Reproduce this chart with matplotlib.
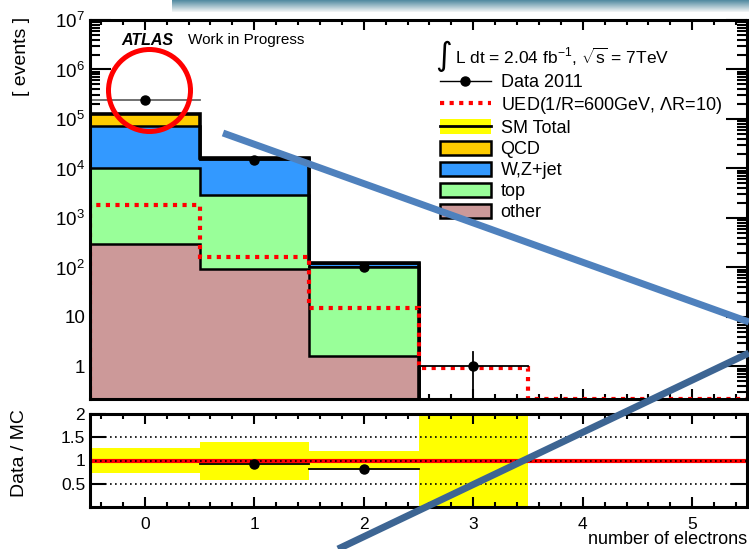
import numpy as np
import matplotlib
matplotlib.use("Agg")
import matplotlib.pyplot as plt
from matplotlib.patches import Patch, Circle
from matplotlib.lines import Line2D
from matplotlib.ticker import FixedLocator, FuncFormatter, MultipleLocator, NullFormatter

plt.rcParams['font.family'] = ['Liberation Sans', 'DejaVu Sans']
plt.rcParams['mathtext.fontset'] = 'custom'
plt.rcParams['mathtext.rm'] = 'Liberation Sans'
plt.rcParams['mathtext.it'] = 'Liberation Sans:italic'
plt.rcParams['mathtext.bf'] = 'Liberation Sans:bold'

# electron multiplicity bins
edges = [-0.5, 0.5, 1.5, 2.5, 3.5, 4.5, 5.5]
centers = [0, 1, 2, 3, 4, 5]
mc_edges = [-0.5, 0.5, 1.5, 2.5]

# SM background components (bins 0-2, nothing beyond)
other = [300, 95, 1.65]
top = [9700, 2800, 100]
wzjet = [63000, 13300, 20]
qcd = [51000, 300, 3]

# data 2011
data = [2.4e5, 1.49e4, 103, 1.0]
data_err = [490, 122, 10, 1.0]

# UED signal, 1/R = 600 GeV
ued = [1830, 165, 15, 0.93, 0.222, 0.222]

# ratio panel
ratio_x = [1, 2]
ratio_val = [0.915, 0.82]
band_edges = [-0.5, 0.5, 1.5, 2.5, 3.5]
band_hi = [1.27, 1.40, 1.21, 2.0]
band_lo = [0.74, 0.58, 0.80, 0.0]

ytick_vals = [1, 10, 1e2, 1e3, 1e4, 1e5, 1e6, 1e7]

c_other = '#cc9999'
c_top = '#99ff99'
c_wz = '#3399ff'
c_qcd = '#ffcc00'

W, H = 749, 549
fig = plt.figure(figsize=(W / 100, H / 100), dpi=100)
ax = fig.add_axes([90 / W, 1 - 399 / H, 657 / W, 379 / H])
axr = fig.add_axes([90 / W, 1 - 507 / H, 657 / W, 93 / H])

# stacked backgrounds, drawn from the cumulative total down
layers = [other, top, wzjet, qcd]
colors = [c_other, c_top, c_wz, c_qcd]
cums = np.cumsum(np.array(layers), axis=0)
for i in range(len(layers) - 1, -1, -1):
    ax.stairs(cums[i], mc_edges, baseline=1e-3, fill=True, color=colors[i], zorder=2)
for i in range(len(layers)):
    ax.stairs(cums[i], mc_edges, baseline=1e-3, fill=False, color='black',
              lw=2.6 if i == len(layers) - 1 else 1.8, zorder=3)

# UED signal
ax.stairs(ued, edges, baseline=1e-3, fill=False, color='red', lw=3,
          linestyle=(0, (1, 1.3)), zorder=4)

# data points
for i, (x, y, e) in enumerate(zip(centers, data, data_err)):
    ax.plot([x - 0.5, x + 0.5], [y, y], color='#666666' if i == 0 else 'black',
            lw=1.3, zorder=5)
    ax.plot([x, x], [max(y - e, 1e-3), y + e], color='black', lw=1.3, zorder=5)
ax.plot(centers[:len(data)], data, 'o', color='black', ms=6.5, zorder=6)

ax.set_yscale('log')
ax.set_xlim(-0.5, 5.5)
ax.set_ylim(0.22, 1e7)


def log_label(v, pos):
    if v == 1:
        return '1'
    if v == 10:
        return '10'
    return r'$10^{%d}$' % int(round(np.log10(v)))


ax.yaxis.set_major_locator(FixedLocator(ytick_vals))
ax.yaxis.set_major_formatter(FuncFormatter(log_label))
minors = [m * 10.0 ** d for d in range(-1, 7) for m in range(2, 10)]
ax.yaxis.set_minor_locator(FixedLocator(minors))
ax.yaxis.set_minor_formatter(NullFormatter())
ax.xaxis.set_major_locator(MultipleLocator(1))
ax.xaxis.set_minor_locator(MultipleLocator(0.2))
ax.tick_params(axis='x', which='both', labelbottom=False)

for a in (ax, axr):
    for s in a.spines.values():
        s.set_linewidth(2.2)
        s.set_zorder(10)
    a.tick_params(which='both', direction='in', top=True, right=True, width=1.5,
                  labelsize=12.5)
    a.tick_params(axis='x', which='major', length=7.5, pad=7)
    a.tick_params(axis='x', which='minor', length=3.8)
    a.tick_params(axis='y', which='major', pad=3.5)

ax.tick_params(axis='y', which='major', length=15, labelsize=13.5)
ax.tick_params(axis='y', which='minor', length=7)

# ratio panel
axr.stairs(band_hi, band_edges, baseline=band_lo, fill=True, color='#ffff00',
           lw=0, zorder=1)
axr.axhline(1, color='red', lw=3, zorder=2)
for yv in (0.5, 1.0, 1.5):
    axr.axhline(yv, color='black', lw=1.2, linestyle=(0, (1, 2)), zorder=3)
for x, r in zip(ratio_x, ratio_val):
    axr.plot([x - 0.5, x + 0.5], [r, r], color='black', lw=1.3, zorder=4)
axr.plot(ratio_x, ratio_val, 'o', color='black', ms=6.5, zorder=5)
axr.set_xlim(-0.5, 5.5)
axr.set_ylim(0, 2)
axr.yaxis.set_major_locator(FixedLocator([0.5, 1, 1.5, 2]))
axr.yaxis.set_major_formatter(FuncFormatter(lambda v, p: '%g' % v))
axr.xaxis.set_major_locator(MultipleLocator(1))
axr.xaxis.set_minor_locator(MultipleLocator(0.2))
axr.tick_params(axis='y', which='major', length=11.5)
axr.tick_params(axis='y', which='minor', length=0)

# axis titles
fig.text(22 / W, 1 - 17 / H, '[ events ]', rotation=90, ha='center', va='top', fontsize=14)
fig.text(20 / W, 1 - 453 / H, 'Data / MC', rotation=90, ha='center', va='center', fontsize=14)
fig.text(747 / W, 1 - 540 / H, 'number of electrons', ha='right', va='center', fontsize=13)

# labels inside the upper panel
ax.text(0.048, 0.947, 'ATLAS', transform=ax.transAxes, fontsize=11.5,
        fontweight='bold', fontstyle='italic', va='center')
ax.text(0.149, 0.947, 'Work in Progress', transform=ax.transAxes, fontsize=11,
        va='center')
ax.text(0.526, 0.903, '\u222b', transform=ax.transAxes, fontsize=23,
        family='DejaVu Sans', va='center')
ax.text(0.555, 0.903, r'L dt = 2.04 fb$^{-1}$, $\sqrt{\mathrm{s}}$ = 7TeV',
        transform=ax.transAxes, fontsize=12.5, va='center')

handles = [
    Line2D([], [], color='black', marker='o', ms=6.5, lw=1),
    Line2D([], [], color='red', lw=3, linestyle=(0, (1, 1.3))),
    (Patch(facecolor='#ffff00', edgecolor='none'), Line2D([], [], color='black', lw=2)),
    Patch(facecolor=c_qcd, edgecolor='black', lw=1.8),
    Patch(facecolor=c_wz, edgecolor='black', lw=1.8),
    Patch(facecolor=c_top, edgecolor='black', lw=1.8),
    Patch(facecolor=c_other, edgecolor='black', lw=1.8),
]
labels = ['Data 2011', r'UED(1/R=600GeV, $\Lambda$R=10)', 'SM Total', 'QCD',
          'W,Z+jet', 'top', 'other']
ax.legend(handles, labels, loc='upper left', bbox_to_anchor=(0.532, 0.858),
          frameon=False, fontsize=13, borderpad=0, borderaxespad=0,
          handlelength=2.83, handleheight=0.85, handletextpad=0.55, labelspacing=0.2)

# slide annotations on top of the plot
ov = fig.add_axes([0, 0, 1, 1], zorder=20)
ov.axis('off')
ov.patch.set_alpha(0)

# banner strip at the top edge
grad = np.linspace(0, 1, 12)[:, None]
c0 = np.array([85, 140, 162]) / 255
c1 = np.array([238, 242, 243]) / 255
strip = c0[None, None, :] * (1 - grad[:, :, None]) + c1[None, None, :] * grad[:, :, None]
strip = np.repeat(strip, 2, axis=1)
ov.imshow(strip, extent=[172, W, 12, 0], aspect='auto', interpolation='bilinear', zorder=1)

ov.add_patch(Circle((149.5, 90.5), 41, fill=False, edgecolor='#ff0000', lw=3.6, zorder=3))
ov.plot([223, W], [133, 322], color='#4f81bd', lw=5, solid_capstyle='butt', zorder=3)
ov.plot([338, W], [549, 353], color='#3d6593', lw=5, solid_capstyle='butt', zorder=3)
ov.set_xlim(0, W)
ov.set_ylim(H, 0)

fig.savefig('out.png', dpi=100)
